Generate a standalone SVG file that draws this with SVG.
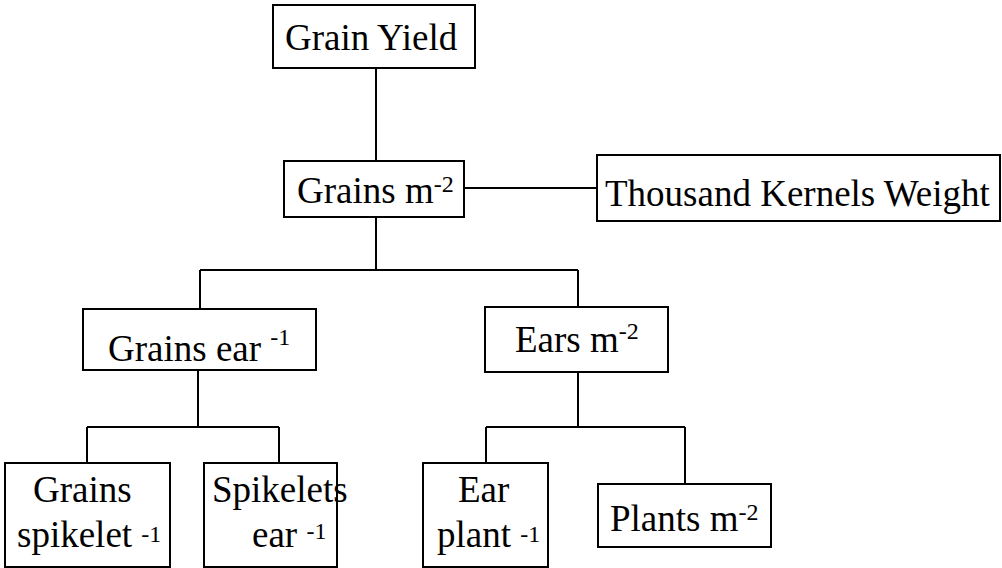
<svg xmlns="http://www.w3.org/2000/svg" width="1002" height="568" viewBox="0 0 1002 568">
<style>
.box{fill:#fff;stroke:#000;stroke-width:2}
.ln{fill:none;stroke:#000;stroke-width:2}
.sup{font-size:24px}
</style>
<rect width="1002" height="568" fill="#fff"/>
<g id="connectors" class="ln">
<path d="M376 68V161"/>
<path d="M464 188H597"/>
<path d="M376 217V270M200 270H578M200 270V309M578 270V307"/>
<path d="M198 370V427M87 427H279M87 427V463M279 427V463"/>
<path d="M578 372V427M486 427H685M486 427V463M685 427V484"/>
</g>
<g font-family="'Liberation Serif', 'DejaVu Serif', serif" font-size="37" fill="#000">
<g id="grain-yield"><rect class="box" x="273" y="5" width="202" height="63"/><text x="285" y="50">Grain Yield</text></g>
<g id="grains-m2"><rect class="box" x="284" y="161" width="180" height="56"/><text x="297" y="203">Grains m<tspan class="sup" dy="-11">-2</tspan></text></g>
<g id="tkw"><rect class="box" x="597" y="155" width="403" height="66"/><text x="605" y="206">Thousand Kernels Weight</text></g>
<g id="grains-ear"><rect class="box" x="83" y="309" width="233" height="61"/><text x="108" y="361">Grains ear <tspan class="sup" dy="-16">-1</tspan></text></g>
<g id="ears-m2"><rect class="box" x="485" y="307" width="183" height="65"/><text x="515" y="352">Ears m<tspan class="sup" dy="-13">-2</tspan></text></g>
<g id="grains-spikelet"><rect class="box" x="5" y="463" width="165" height="104"/><text x="33" y="502">Grains</text><text x="17" y="547">spikelet <tspan class="sup" dy="-5">-1</tspan></text></g>
<g id="spikelets-ear"><rect class="box" x="204" y="463" width="133" height="104"/><text x="212" y="502">Spikelets</text><text x="252" y="547">ear <tspan class="sup" dy="-8">-1</tspan></text></g>
<g id="ear-plant"><rect class="box" x="423" y="463" width="125" height="104"/><text x="458" y="502">Ear</text><text x="437" y="547">plant <tspan class="sup" dy="-5">-1</tspan></text></g>
<g id="plants-m2"><rect class="box" x="598" y="484" width="173" height="63"/><text x="610" y="531">Plants m<tspan class="sup" dy="-11">-2</tspan></text></g>
</g>
</svg>
